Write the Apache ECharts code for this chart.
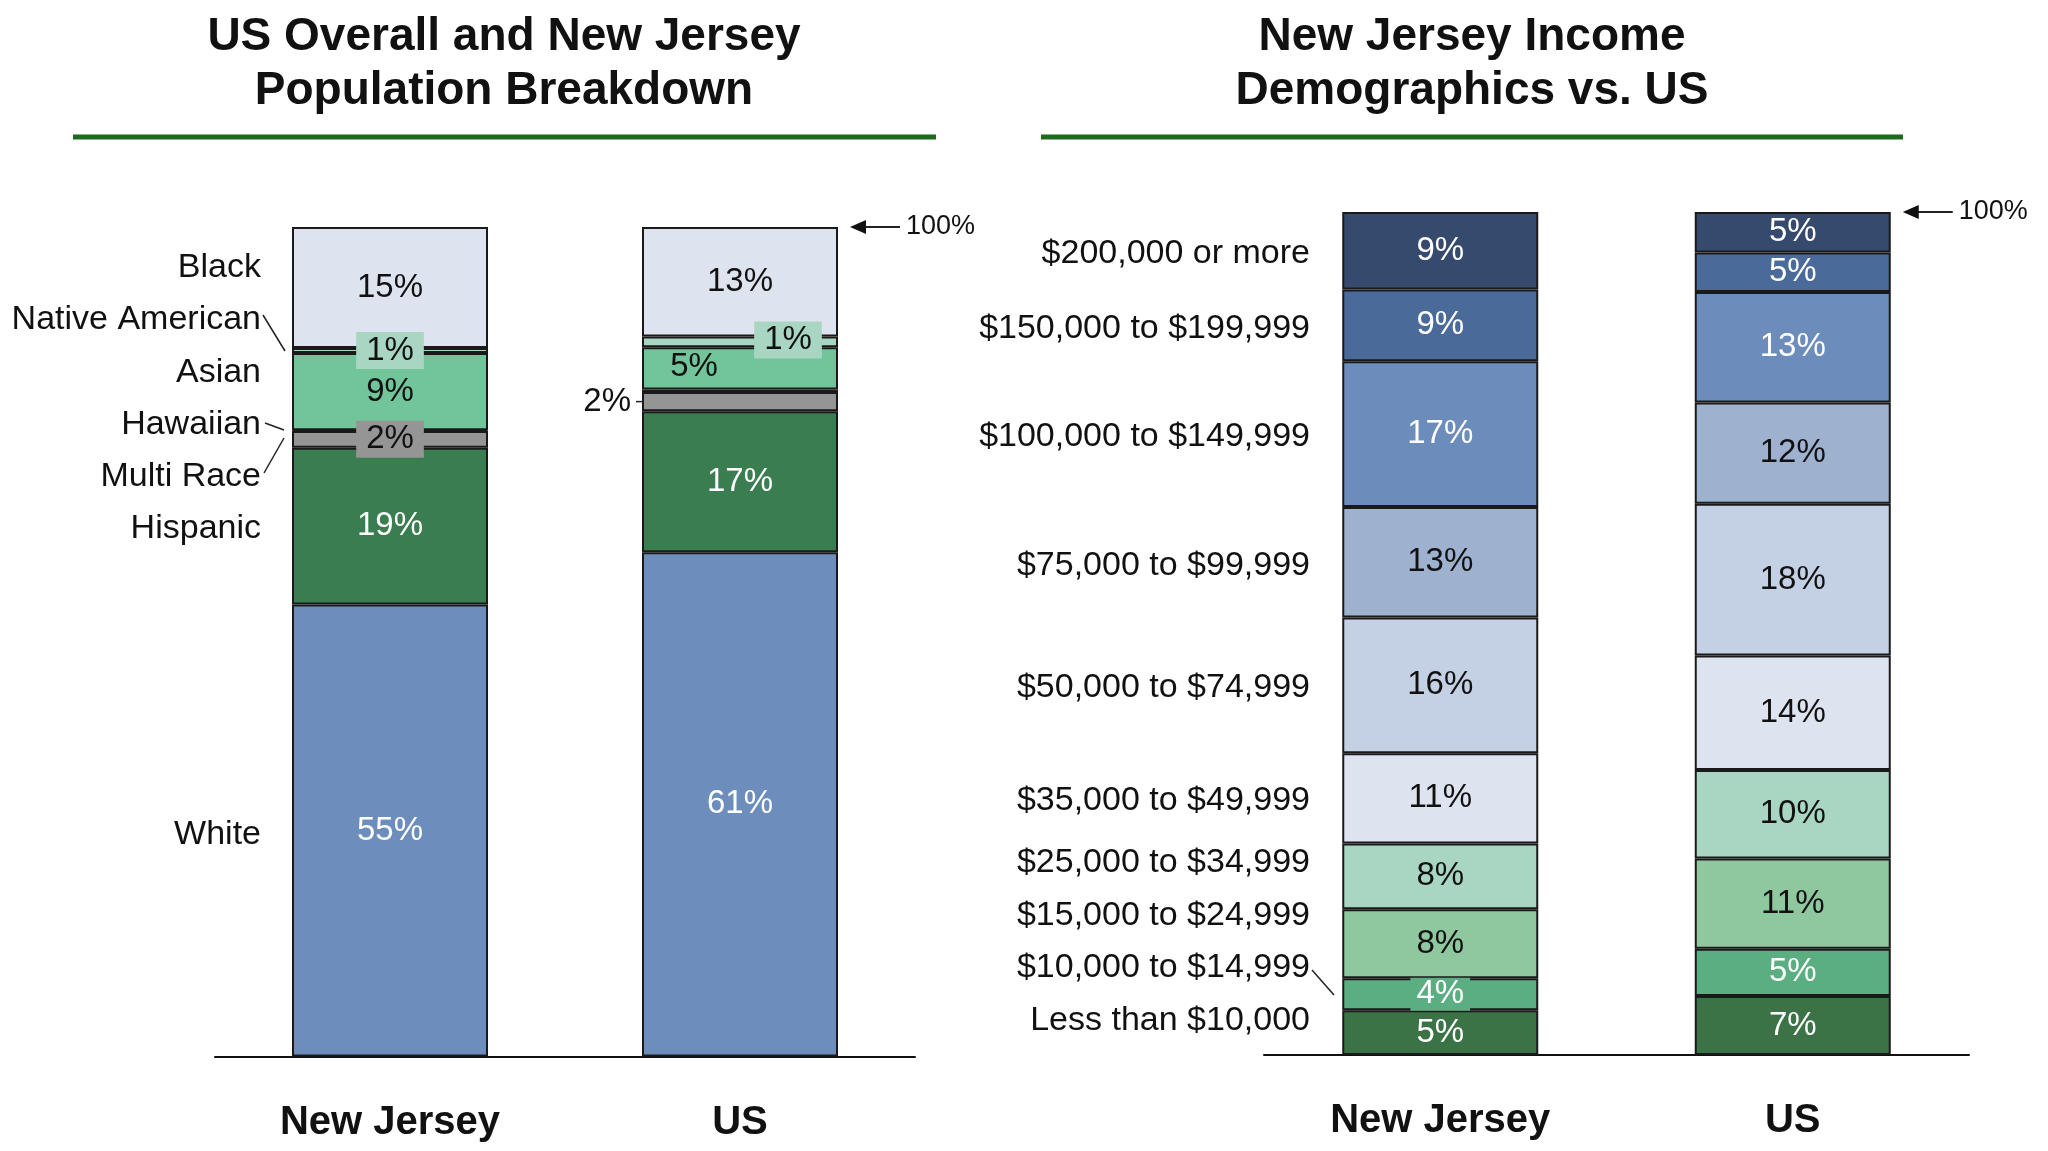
<!DOCTYPE html>
<html><head><meta charset="utf-8">
<script src="https://cdn.jsdelivr.net/npm/echarts@6/dist/echarts.min.js"></script>
<style>html,body{margin:0;padding:0;background:#fff}#c{width:2048px;height:1151px}</style>
</head><body><div id="c"></div>
<script>
// ---------- DATA ----------
const categories = ['New Jersey', 'US'];

const raceNames = ['White', 'Hispanic', 'Multi Race', 'Hawaiian', 'Asian', 'Native American', 'Black'];
const raceNJ = [54.5, 18.9, 2.0, 0.1, 9.3, 0.6, 14.6];
const raceUS = [60.8, 17.0, 2.3, 0.3, 5.1, 1.3, 13.2];
const raceLabelsNJ = ['55%', '19%', '2%', '', '9%', '1%', '15%'];
const raceLabelsUS = ['61%', '17%', '2%', '', '5%', '1%', '13%'];

const incomeNames = ['Less than $10,000', '$10,000 to $14,999', '$15,000 to $24,999', '$25,000 to $34,999',
  '$35,000 to $49,999', '$50,000 to $74,999', '$75,000 to $99,999', '$100,000 to $149,999',
  '$150,000 to $199,999', '$200,000 or more'];
const incomeNJ = [5.3, 3.8, 8.2, 7.8, 10.7, 16.1, 13.1, 17.3, 8.5, 9.2];
const incomeUS = [7.0, 5.6, 10.7, 10.5, 13.6, 18.0, 12.0, 13.1, 4.7, 4.8];
const incomeLabelsNJ = ['5%', '4%', '8%', '8%', '11%', '16%', '13%', '17%', '9%', '9%'];
const incomeLabelsUS = ['7%', '5%', '11%', '10%', '14%', '18%', '12%', '13%', '5%', '5%'];

const titleLeft = ['US Overall and New Jersey', 'Population Breakdown'];
const titleRight = ['New Jersey Income', 'Demographics vs. US'];

// ---------- STYLE ----------
const FONT = '"Liberation Sans", Arial, sans-serif';
const DARK = '#111111';
const raceColors = ['#6D8EBC', '#3A7D50', '#959595', '#4a4a4a', '#72C49A', '#A9D6C3', '#DEE4EF'];
const raceLabelColors = ['#fff', '#fff', DARK, DARK, DARK, DARK, DARK];
const incomeColors = ['#3B7347', '#5AAE82', '#8FC79F', '#A9D5C3', '#DEE4EF', '#C4D0E3', '#9EB1CF', '#6C8DBC', '#4A6A9A', '#364A6D'];
const incomeLabelColors = ['#fff', '#fff', DARK, DARK, DARK, DARK, DARK, '#fff', '#fff', '#fff'];

// special label tweaks: key = axis-barIndex-seriesIndex
const special = {
  '0-0-5': {backgroundColor: '#A9D6C3', padding: [2, 10]},
  '0-0-2': {backgroundColor: '#959595', padding: [2, 10]},
  '0-1-5': {backgroundColor: '#A9D6C3', padding: [2, 10], offset: [48, -2]},
  '0-1-4': {offset: [-46, -2]},
  '0-1-2': {position: 'left', distance: 11},
  '1-0-1': {backgroundColor: '#5AAE82', padding: [0, 6]}
};

function buildSeries(names, nj, us, lnj, lus, colors, lcolors, ax, stack) {
  return names.map((n, i) => ({
    name: n, type: 'bar', stack: stack, xAxisIndex: ax, yAxisIndex: ax, barWidth: 196,
    itemStyle: {color: colors[i], borderColor: '#1a1a1a', borderWidth: 2},
    label: {show: true, position: 'inside', color: lcolors[i], fontSize: 33, fontFamily: FONT},
    emphasis: {disabled: true},
    data: [nj[i], us[i]].map((v, j) => {
      const txt = [lnj, lus][j][i];
      const s = special[ax + '-' + j + '-' + i] || {};
      return {value: v, label: Object.assign({show: txt !== '', formatter: txt}, s)};
    })
  }));
}

const chart = echarts.init(document.getElementById('c'), null, {renderer: 'canvas'});

const xAxisCommon = {
  type: 'category', data: categories,
  axisLine: {lineStyle: {color: '#111', width: 2}},
  axisTick: {show: false},
  axisLabel: {fontSize: 40, fontWeight: 'bold', color: DARK, fontFamily: FONT, margin: 46}
};

chart.setOption({
  backgroundColor: '#fff',
  animation: false,
  grid: [
    {left: 215, width: 700, top: 227, height: 829.5},
    {left: 1264, width: 705, top: 212, height: 843}
  ],
  xAxis: [Object.assign({gridIndex: 0}, xAxisCommon), Object.assign({gridIndex: 1}, xAxisCommon)],
  yAxis: [
    {gridIndex: 0, type: 'value', min: 0, max: 100, show: false},
    {gridIndex: 1, type: 'value', min: 0, max: 100, show: false}
  ],
  series: buildSeries(raceNames, raceNJ, raceUS, raceLabelsNJ, raceLabelsUS, raceColors, raceLabelColors, 0, 'race')
    .concat(buildSeries(incomeNames, incomeNJ, incomeUS, incomeLabelsNJ, incomeLabelsUS, incomeColors, incomeLabelColors, 1, 'inc'))
});

// ---------- ANNOTATIONS ----------
const g = [];
function text(x, y, t, opts) {
  g.push({type: 'text', x: x, y: y, silent: true,
    style: Object.assign({text: t, fontSize: 34, fontFamily: FONT, fill: DARK, align: 'right', verticalAlign: 'middle'}, opts || {})});
}
function line(x1, y1, x2, y2, w) {
  g.push({type: 'line', silent: true, shape: {x1, y1, x2, y2}, style: {stroke: '#222', lineWidth: w || 1.5}});
}
// titles
[[titleLeft, 504], [titleRight, 1472]].forEach(([t, cx]) => {
  text(cx, 37, t[0], {fontSize: 46, fontWeight: 'bold', align: 'center'});
  text(cx, 91, t[1], {fontSize: 46, fontWeight: 'bold', align: 'center'});
});
g.push({type: 'rect', silent: true, shape: {x: 73, y: 134.5, width: 863, height: 5}, style: {fill: '#1B6B1B'}});
g.push({type: 'rect', silent: true, shape: {x: 1041, y: 134.5, width: 862, height: 5}, style: {fill: '#1B6B1B'}});

// left category labels
const raceLabelY = [835, 529, 477, 425, 373, 320, 268];
raceNames.forEach((n, i) => text(261, raceLabelY[i], n));
line(263, 315, 285, 351);
line(265, 423, 284, 430);
line(264, 473, 284, 438);

// right category labels
const incLabelY = [1021, 968, 916, 863, 801, 688, 566, 437, 329, 254];
incomeNames.forEach((n, i) => text(1310, incLabelY[i], n));
line(1312, 970, 1334, 995);

// US 2% leader line
const usX = chart.convertToPixel({xAxisIndex: 0}, 'US');
const multiMid = chart.convertToPixel({yAxisIndex: 0}, raceUS[0] + raceUS[1] + raceUS[2] / 2);
line(usX - 104, multiMid, usX - 80, multiMid, 1.5);

// 100% arrows
function arrow(ax) {
  const cx = chart.convertToPixel({xAxisIndex: ax}, categories[1]);
  const y = chart.convertToPixel({yAxisIndex: ax}, 100);
  const tip = cx + 98 + 12;
  line(tip + 10, y, tip + 50, y, 2);
  g.push({type: 'polygon', silent: true, shape: {points: [[tip, y], [tip + 16, y - 7], [tip + 16, y + 7]]}, style: {fill: '#111'}});
  text(tip + 56, y, '100%', {fontSize: 27, align: 'left'});
}
arrow(0);
arrow(1);

chart.setOption({graphic: g});
</script></body></html>
